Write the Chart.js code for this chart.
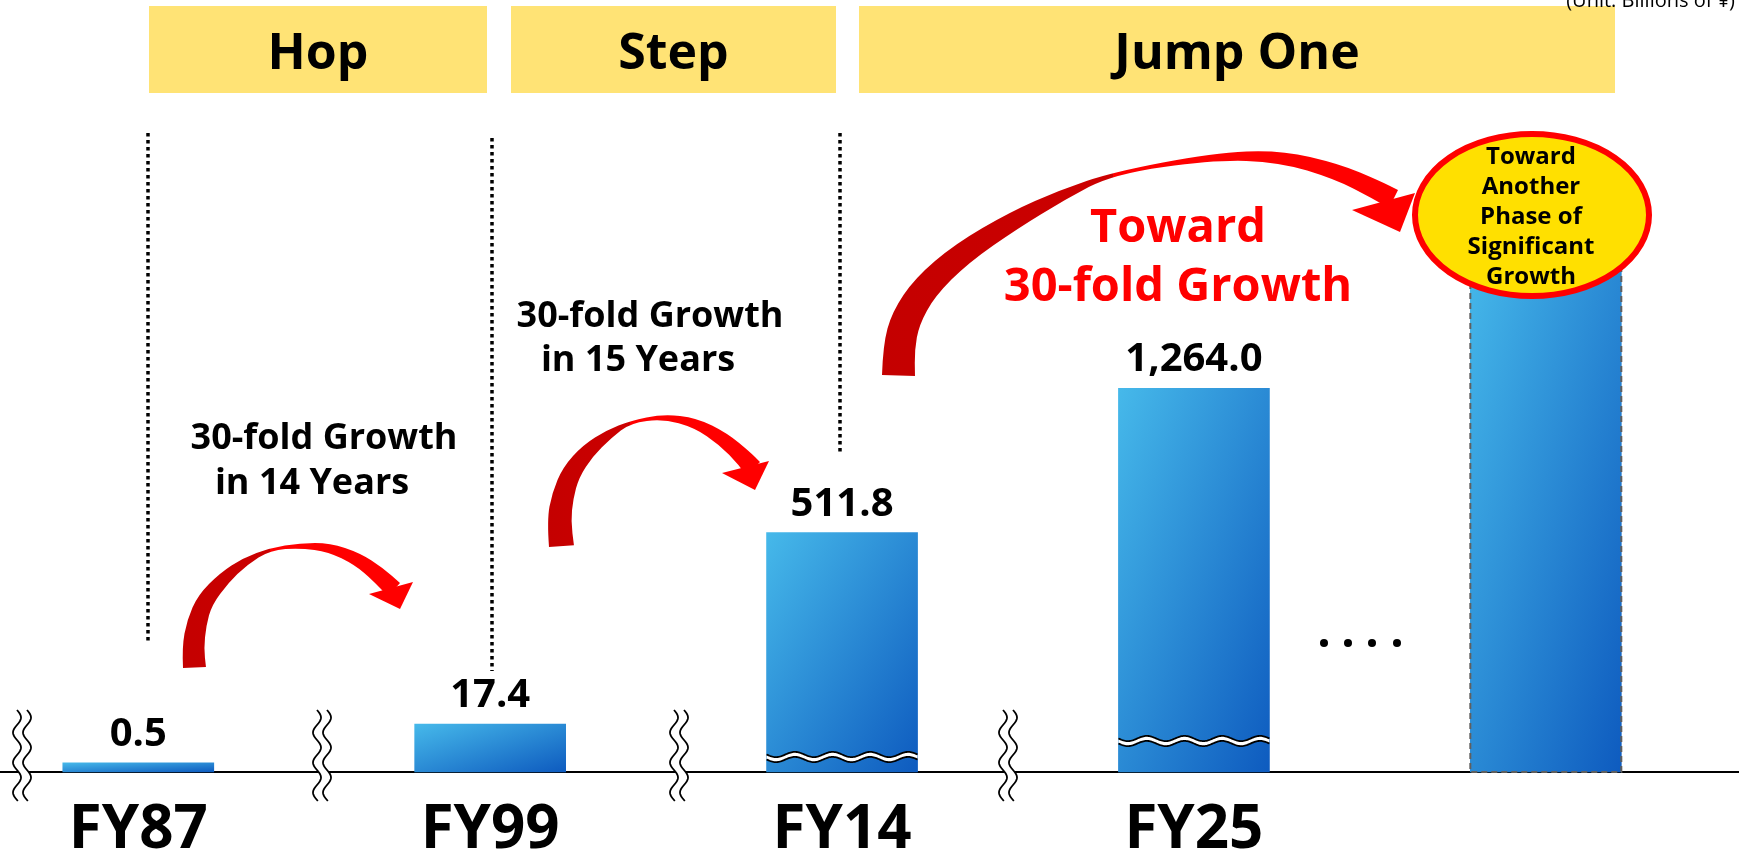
<!DOCTYPE html>
<html>
<head>
<meta charset="utf-8">
<script src="https://cdn.jsdelivr.net/npm/chart.js@4.4.1/dist/chart.umd.min.js"></script>
<style>
  html, body { margin: 0; padding: 0; background: #fff; overflow: hidden; }
  canvas { display: block; }
</style>
</head>
<body>
<canvas id="growthChart" width="1739" height="859"></canvas>
<script>
// ---- data ----
const categories = ['FY87', 'FY99', 'FY14', 'FY25', ''];
const amounts = [0.5, 17.4, 511.8, 1264.0, null];   // billions of yen (printed figures)
const barLevels = [1.2, 6.2, 31.0, 49.7, 68];        // drawn height on the broken axis, % of plot height
const phases = ['Hop', 'Step', 'Jump One'];

const FONT = '"Open Sans", "Noto Sans", sans-serif';

// ---- decoration helpers ----
function smoothPath(ctx, pts, move) {
    if (move) ctx.moveTo(pts[0][0], pts[0][1]); else ctx.lineTo(pts[0][0], pts[0][1]);
    for (let i = 1; i < pts.length - 1; i++) {
        const mx = (pts[i][0] + pts[i + 1][0]) / 2, my = (pts[i][1] + pts[i + 1][1]) / 2;
        ctx.quadraticCurveTo(pts[i][0], pts[i][1], mx, my);
    }
    const last = pts[pts.length - 1];
    ctx.lineTo(last[0], last[1]);
}

// curved "growth" arrow: outer edge points + band width at each point
function drawSweep(ctx, s) {
    const n = s.edge.length;
    const inner = s.edge.map((p, i) => {
        const a = s.edge[Math.max(0, i - 1)], b = s.edge[Math.min(n - 1, i + 1)];
        let dx = b[0] - a[0], dy = b[1] - a[1];
        const len = Math.hypot(dx, dy);
        dx /= len; dy /= len;
        return [p[0] - dy * s.width[i], p[1] + dx * s.width[i]];
    });
    const xs = s.edge.map(p => p[0]).concat(inner.map(p => p[0]));
    const x0 = Math.min(...xs) - 2, x1 = Math.max(...xs) + 2;
    const f = (s.pinch - x0) / (x1 - x0);
    const g = ctx.createLinearGradient(x0, 0, x1, 0);
    g.addColorStop(0, '#c40000');
    g.addColorStop(f, '#cc0000');
    g.addColorStop(Math.min(1, f + 0.001), '#ff0000');
    g.addColorStop(1, '#ff0000');
    ctx.fillStyle = g;
    ctx.beginPath();
    smoothPath(ctx, s.edge, true);
    smoothPath(ctx, inner.slice().reverse(), false);
    ctx.closePath();
    ctx.fill();
    ctx.fillStyle = '#ff0000';
    ctx.beginPath();
    ctx.moveTo(s.head[0][0], s.head[0][1]);
    ctx.lineTo(s.head[1][0], s.head[1][1]);
    ctx.lineTo(s.head[2][0], s.head[2][1]);
    ctx.closePath();
    ctx.fill();
}

const sweeps = [
    { pinch: 270,
      edge: [[183,668],[182,647],[187,620],[198,595],[220,573],[243,558],[270,548],[300,543],[330,543],[360,553],[383,568],[400,583]],
      width: [23,22,20,17,13,8,2,5,9,13,16,18],
      head: [[369,594],[413,582],[400,609]] },
    { pinch: 630,
      edge: [[549,547],[547,520],[552,493],[563,467],[583,445],[607,430],[630,421],[663,414],[697,418],[727,433],[750,452],[760,462]],
      width: [25,24,22,19,15,9,2,5,10,14,17,19],
      head: [[722,473],[769,461],[755,490]] },
    { pinch: 1113,
      edge: [[882,375],[883,345],[892,312],[915,278],[955,244],[1010,212],[1060,190],[1113,172],[1213,153],[1280,150],[1340,164],[1380,181],[1398,190]],
      width: [33,32,30,27,23,18,11,2,7,12,16,19,20],
      head: [[1352,210],[1415,193],[1400,232]] }
];

function text(ctx, str, x, capMid, size, color, align) {
    ctx.font = 'bold ' + size + 'px ' + FONT;
    ctx.fillStyle = color || '#000';
    ctx.textAlign = align || 'center';
    ctx.textBaseline = 'alphabetic';
    ctx.fillText(str, x, capMid + size * 0.357);
}

// white zig-zag cut across a bar
function barBreak(ctx, left, right, yc) {
    const per = (right - left) / 4, amp = 2.6, gap = 5;
    const yAt = (x, off) => yc + off + amp * Math.sin((x - left) / per * 2 * Math.PI);
    ctx.beginPath();
    for (let x = left; x <= right; x += 1) ctx.lineTo(x, yAt(x, -gap / 2));
    for (let x = right; x >= left; x -= 1) ctx.lineTo(x, yAt(x, gap / 2));
    ctx.closePath();
    ctx.fillStyle = '#fff';
    ctx.fill();
    ctx.strokeStyle = '#000';
    ctx.lineWidth = 1.8;
    [-gap / 2, gap / 2].forEach(off => {
        ctx.beginPath();
        for (let x = left; x <= right; x += 1) ctx.lineTo(x, yAt(x, off));
        ctx.stroke();
    });
}

// vertical double-wave axis break mark
function axisBreak(ctx, xc, top, bottom) {
    const per = 30, amp = 4, gap = 10;
    const xAt = (y, off) => xc + off + amp * Math.sin((y - top) / per * 2 * Math.PI);
    ctx.beginPath();
    for (let y = top; y <= bottom; y += 1) ctx.lineTo(xAt(y, -gap / 2), y);
    for (let y = bottom; y >= top; y -= 1) ctx.lineTo(xAt(y, gap / 2), y);
    ctx.closePath();
    ctx.fillStyle = '#fff';
    ctx.fill();
    ctx.strokeStyle = '#000';
    ctx.lineWidth = 1.8;
    [-gap / 2, gap / 2].forEach(off => {
        ctx.beginPath();
        for (let y = top; y <= bottom; y += 1) ctx.lineTo(xAt(y, off), y);
        ctx.stroke();
    });
}

const decorPlugin = {
    id: 'decor',
    afterDraw(chart) {
        const ctx = chart.ctx;
        const bars = chart.getDatasetMeta(0).data;
        ctx.save();

        // breaks inside the FY14 / FY25 bars
        [[2, 15], [3, 31]].forEach(([i, up]) => {
            const b = bars[i];
            barBreak(ctx, b.x - b.width / 2, b.x + b.width / 2, b.base - up);
        });

        // dashed outline on the future bar
        const fb = bars[4];
        ctx.setLineDash([6, 4]);
        ctx.strokeStyle = '#5f5f5f';
        ctx.lineWidth = 2;
        ctx.strokeRect(fb.x - fb.width / 2, fb.y, fb.width, fb.base - fb.y);
        ctx.setLineDash([]);

        // axis break marks
        [22, 322, 679, 1008].forEach(x => axisBreak(ctx, x, 710, 801));

        // dotted separators
        ctx.setLineDash([3.5, 3.5]);
        ctx.strokeStyle = '#000';
        ctx.lineWidth = 3.5;
        [[148, 133, 641], [492, 138, 671], [840, 133, 455]].forEach(([x, y0, y1]) => {
            ctx.beginPath(); ctx.moveTo(x, y0); ctx.lineTo(x, y1); ctx.stroke();
        });
        ctx.setLineDash([]);

        // ellipsis dots
        ctx.fillStyle = '#000';
        [1324, 1348, 1372, 1397].forEach(x => {
            ctx.beginPath(); ctx.arc(x, 643, 4, 0, 2 * Math.PI); ctx.fill();
        });

        // curved arrows
        sweeps.forEach(s => drawSweep(ctx, s));

        // phase boxes
        [[149, 487], [511, 836], [859, 1615]].forEach(([l, r], i) => {
            ctx.fillStyle = '#ffe375';
            ctx.fillRect(l, 6, r - l, 87);
            text(ctx, phases[i], (l + r) / 2, 51, 50);
        });

        // unit note (cut by the top edge)
        ctx.font = '20px ' + FONT;
        ctx.fillStyle = '#000';
        ctx.textAlign = 'right';
        ctx.textBaseline = 'alphabetic';
        ctx.fillText('(Unit: Billions of \u00a5)', 1735, 7);

        // value labels
        bars.forEach((b, i) => {
            if (amounts[i] == null) return;
            const label = amounts[i].toLocaleString('en-US', { minimumFractionDigits: 1, maximumFractionDigits: 1 });
            ctx.font = 'bold 40px ' + FONT;
            ctx.fillStyle = '#000';
            ctx.textAlign = 'center';
            ctx.textBaseline = 'alphabetic';
            ctx.fillText(label, b.x, b.y - 17);
        });

        // growth notes
        text(ctx, '30-fold Growth', 324, 436, 36);
        text(ctx, 'in 14 Years', 312, 481, 36);
        text(ctx, '30-fold Growth', 650, 314, 36);
        text(ctx, 'in 15 Years', 638, 358, 36);
        text(ctx, 'Toward', 1178, 225, 47, '#ff0000');
        text(ctx, '30-fold Growth', 1178, 284, 47, '#ff0000');

        // target ellipse
        ctx.beginPath();
        ctx.ellipse(1532, 215, 117, 81, 0, 0, 2 * Math.PI);
        ctx.fillStyle = '#ffe000';
        ctx.fill();
        ctx.lineWidth = 6;
        ctx.strokeStyle = '#ff0000';
        ctx.stroke();
        ['Toward', 'Another', 'Phase of', 'Significant', 'Growth'].forEach((t, i) => {
            text(ctx, t, 1531, 155 + i * 30.2, 24);
        });

        ctx.restore();
    }
};

// diagonal gradient scaled to each bar (light top-left -> dark bottom-right)
function barFill(c) {
    const chart = c.chart;
    const xs = chart.scales.x, ys = chart.scales.y;
    const fallback = '#2f8fd8';
    if (!xs || !ys || c.type !== 'data') return fallback;
    const w = 151;
    const left = xs.getPixelForValue(c.dataIndex) - w / 2;
    const top = ys.getPixelForValue(barLevels[c.dataIndex]);
    const bottom = ys.getPixelForValue(0);
    if (![left, top, bottom].every(Number.isFinite)) return fallback;
    const h = Math.max(1, bottom - top);
    const dx = 1 / w, dy = 1 / h, d2 = dx * dx + dy * dy;
    const g = chart.ctx.createLinearGradient(left, top, left + 2 * dx / d2, top + 2 * dy / d2);
    g.addColorStop(0, '#46b9ea');
    g.addColorStop(1, '#0e5bbf');
    return g;
}

const chart = new Chart(document.getElementById('growthChart').getContext('2d'), {
    type: 'bar',
    data: {
        datasets: [{
            data: barLevels.map((v, i) => ({ x: i, y: v })),
            backgroundColor: barFill,
            borderWidth: 0,
            barThickness: 151,
            clip: false
        }]
    },
    options: {
        responsive: false,
        animation: false,
        events: [],
        layout: { padding: 0 },
        plugins: { legend: { display: false }, tooltip: { enabled: false } },
        scales: {
            x: {
                type: 'linear',
                offset: false,
                min: -0.393,
                max: 4.549,
                z: 1,
                grid: { display: false, offset: false },
                border: { display: true, color: '#000', width: 2 },
                afterBuildTicks: (scale) => { scale.ticks = categories.map((c, i) => ({ value: i })); },
                afterFit: (scale) => { scale.height = 87; },
                ticks: {
                    autoSkip: false,
                    maxRotation: 0,
                    padding: 21,
                    color: '#000',
                    font: { family: FONT, size: 60, weight: 'bold', lineHeight: 1.0 },
                    callback: (v) => categories[v] ?? ''
                }
            },
            y: { display: false, min: 0, max: 100 }
        }
    },
    plugins: [decorPlugin]
});
chart.update();
</script>
</body>
</html>
